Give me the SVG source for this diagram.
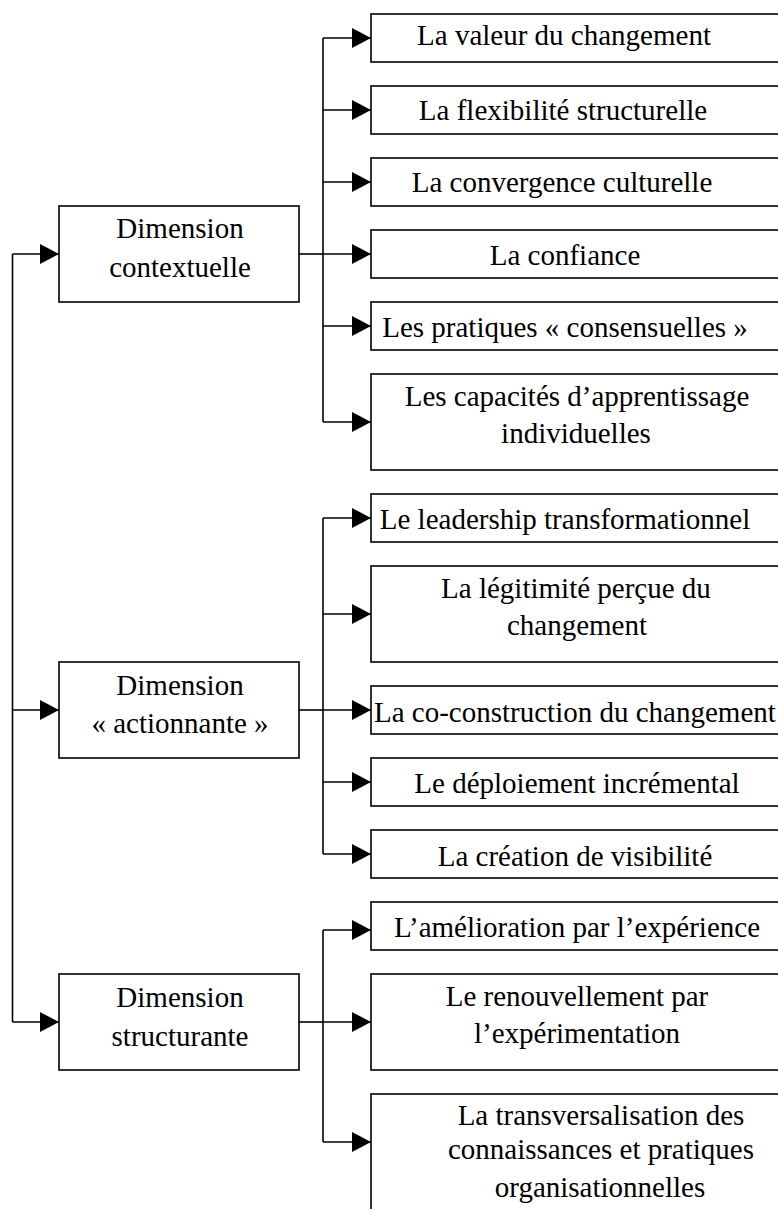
<svg xmlns="http://www.w3.org/2000/svg" width="778" height="1209" viewBox="0 0 778 1209">
<style>
.box{fill:#fff;stroke:#000;stroke-width:1.6}
.t{font-family:"Liberation Serif","Times New Roman",serif;font-size:29px;fill:#000;text-anchor:middle}
.c{fill:none;stroke:#000;stroke-width:1.6}
</style>
<defs>
<marker id="ah" viewBox="0 0 19 20" refX="19" refY="10" markerWidth="19" markerHeight="20" markerUnits="userSpaceOnUse" orient="auto">
<path d="M0,0 L19,10 L0,20 Z" fill="#000"/>
</marker>
</defs>
<g id="connectors">
<path class="c" d="M12.5,254 V1022"/>
<path class="c" d="M12.5,254 H59" marker-end="url(#ah)"/>
<path class="c" d="M12.5,710 H59" marker-end="url(#ah)"/>
<path class="c" d="M12.5,1022 H59" marker-end="url(#ah)"/>
<path class="c" d="M299,254 H323"/>
<path class="c" d="M323,38 V422"/>
<path class="c" d="M323,38 H371" marker-end="url(#ah)"/>
<path class="c" d="M323,110 H371" marker-end="url(#ah)"/>
<path class="c" d="M323,182 H371" marker-end="url(#ah)"/>
<path class="c" d="M323,254 H371" marker-end="url(#ah)"/>
<path class="c" d="M323,326 H371" marker-end="url(#ah)"/>
<path class="c" d="M323,422 H371" marker-end="url(#ah)"/>
<path class="c" d="M299,710 H323"/>
<path class="c" d="M323,518 V854"/>
<path class="c" d="M323,518 H371" marker-end="url(#ah)"/>
<path class="c" d="M323,614 H371" marker-end="url(#ah)"/>
<path class="c" d="M323,710 H371" marker-end="url(#ah)"/>
<path class="c" d="M323,782 H371" marker-end="url(#ah)"/>
<path class="c" d="M323,854 H371" marker-end="url(#ah)"/>
<path class="c" d="M299,1022 H323"/>
<path class="c" d="M323,930 V1142"/>
<path class="c" d="M323,930 H371" marker-end="url(#ah)"/>
<path class="c" d="M323,1022 H371" marker-end="url(#ah)"/>
<path class="c" d="M323,1142 H371" marker-end="url(#ah)"/>
</g>
<g id="dim1"><rect class="box" x="59" y="206" width="240" height="96"/><text class="t" x="180" y="238">Dimension</text><text class="t" x="180" y="277">contextuelle</text></g>
<g id="dim2"><rect class="box" x="59" y="662" width="240" height="96"/><text class="t" x="180" y="695">Dimension</text><text class="t" x="180" y="733">« actionnante »</text></g>
<g id="dim3"><rect class="box" x="59" y="974" width="240" height="96"/><text class="t" x="180" y="1007">Dimension</text><text class="t" x="180" y="1046">structurante</text></g>
<g id="n1"><rect class="box" x="371" y="14" width="430" height="48"/><text class="t" x="564" y="45">La valeur du changement</text></g>
<g id="n2"><rect class="box" x="371" y="86" width="430" height="48"/><text class="t" x="563" y="120">La flexibilité structurelle</text></g>
<g id="n3"><rect class="box" x="371" y="158" width="430" height="48"/><text class="t" x="562" y="192">La convergence culturelle</text></g>
<g id="n4"><rect class="box" x="371" y="230" width="430" height="48"/><text class="t" x="565" y="265">La confiance</text></g>
<g id="n5"><rect class="box" x="371" y="302" width="430" height="48"/><text class="t" x="565" y="337">Les pratiques « consensuelles »</text></g>
<g id="n6"><rect class="box" x="371" y="374" width="430" height="96"/><text class="t" x="577" y="406">Les capacités d’apprentissage</text><text class="t" x="576" y="443">individuelles</text></g>
<g id="n7"><rect class="box" x="371" y="494" width="430" height="48"/><text class="t" x="565" y="529">Le leadership transformationnel</text></g>
<g id="n8"><rect class="box" x="371" y="566" width="430" height="96"/><text class="t" x="576" y="598">La légitimité perçue du</text><text class="t" x="577" y="635">changement</text></g>
<g id="n9"><rect class="box" x="371" y="686" width="430" height="48"/><text class="t" x="374" y="722" style="text-anchor:start">La co-construction du changement</text></g>
<g id="n10"><rect class="box" x="371" y="758" width="430" height="48"/><text class="t" x="577" y="793">Le déploiement incrémental</text></g>
<g id="n11"><rect class="box" x="371" y="830" width="430" height="48"/><text class="t" x="575" y="866">La création de visibilité</text></g>
<g id="n12"><rect class="box" x="371" y="902" width="430" height="48"/><text class="t" x="577" y="937">L’amélioration par l’expérience</text></g>
<g id="n13"><rect class="box" x="371" y="974" width="430" height="96"/><text class="t" x="577" y="1006">Le renouvellement par</text><text class="t" x="577" y="1043">l’expérimentation</text></g>
<g id="n14"><rect class="box" x="371" y="1094" width="430" height="140"/><text class="t" x="601" y="1125">La transversalisation des</text><text class="t" x="601" y="1159">connaissances et pratiques</text><text class="t" x="600" y="1197">organisationnelles</text></g>
</svg>
